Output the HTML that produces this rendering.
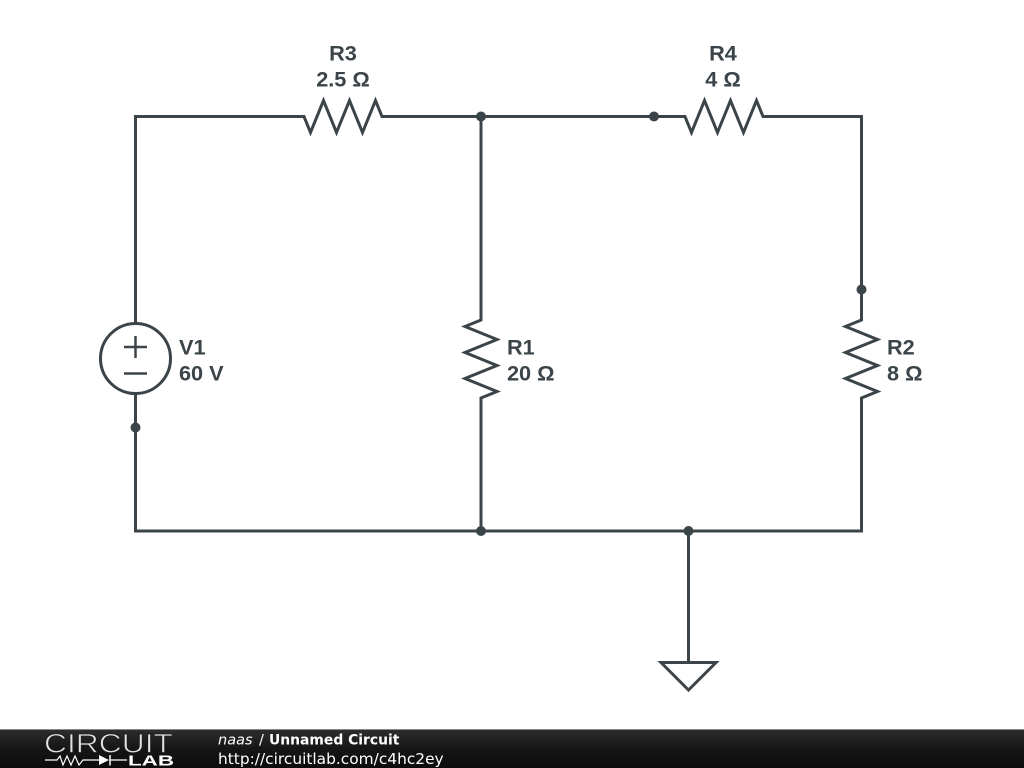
<!DOCTYPE html>
<html>
<head>
<meta charset="utf-8">
<style>
html,body{margin:0;padding:0;background:#fff;width:1024px;height:768px;overflow:hidden}
svg{display:block}
.l{font-family:"Liberation Sans",sans-serif;font-weight:bold;font-size:21.7px;fill:#3b4449;text-anchor:middle}
.ll{font-family:"Liberation Sans",sans-serif;font-weight:bold;font-size:21.7px;fill:#3b4449}
.f{font-family:"DejaVu Sans",sans-serif;fill:#fff}
</style>
</head>
<body>
<svg width="1024" height="768" viewBox="0 0 1024 768" xmlns="http://www.w3.org/2000/svg">
<defs>
<linearGradient id="g" x1="0" y1="0" x2="0" y2="1">
<stop offset="0" stop-color="#2e2e2e"/>
<stop offset="0.5" stop-color="#161616"/>
<stop offset="1" stop-color="#0c0c0c"/>
</linearGradient>
</defs>
<g fill="none" stroke="#3b4449" stroke-width="3" stroke-linejoin="miter" stroke-linecap="butt">
<path d="M135.500 323V116.500H304L310.500 132.500L323.500 100.500L336.500 132.500L349.500 100.500L362.500 132.500L375.500 100.500L382 116.500H685L691.500 132.500L704.500 100.500L717.500 132.500L730.500 100.500L743.500 132.500L756.500 100.500L763 116.500H861.500V320L845.500 326.500L877.500 339.500L845.500 352.500L877.500 365.500L845.500 378.500L877.500 391.500L861.500 398V531H135.500V393"/>
<path d="M481 116.500V320L465 326.500L497 339.500L465 352.500L497 365.500L465 378.500L497 391.500L481 398V531"/>
<circle cx="135.500" cy="358.500" r="35"/>
<path d="M124 347H147M135.500 336V358M124 373.500H147" stroke-width="2.500"/>
<path d="M688.500 531V662"/>
<path d="M661 662.500H716L688.500 690Z"/>
</g>
<g fill="#3b4449">
<circle cx="481" cy="116.500" r="5"/>
<circle cx="654" cy="116.500" r="5"/>
<circle cx="861.500" cy="289.500" r="5"/>
<circle cx="135.500" cy="427.500" r="5"/>
<circle cx="481" cy="531" r="5"/>
<circle cx="688.500" cy="531" r="5"/>
</g>
<text class="l" x="343" y="60.500">R3</text>
<text class="l" x="343" y="86.500">2.5 Ω</text>
<text class="l" x="723" y="60.500">R4</text>
<text class="l" x="723" y="86.500">4 Ω</text>
<text class="ll" x="179" y="354.500">V1</text>
<text class="ll" x="179" y="380.500">60 V</text>
<text class="ll" x="507" y="354.500">R1</text>
<text class="ll" x="507" y="380.500">20 Ω</text>
<text class="ll" x="887" y="354.500">R2</text>
<text class="ll" x="887" y="380.500">8 Ω</text>
<rect x="0" y="729" width="1024" height="39" fill="url(#g)"/>
<rect x="0" y="729" width="1024" height="1" fill="#8a8a8a"/>
<text x="44" y="752.500" font-family="'Liberation Sans',sans-serif" font-size="27" fill="#e4e4e4" stroke="#1d1d1d" stroke-width="0.800" textLength="129" lengthAdjust="spacingAndGlyphs">CIRCUIT</text>
<path d="M45 760H57L60 756L63 765L67 756L71 765L75 756L79 765L83 760H99M110 760H127" fill="none" stroke="#fff" stroke-width="1.200"/>
<path d="M99 755L109 760L99 765Z" fill="#fff"/>
<path d="M110 755V765.500" stroke="#fff" stroke-width="1.500"/>
<text x="128" y="765.500" font-family="'Liberation Sans',sans-serif" font-weight="bold" font-size="15" fill="#fff" textLength="46" lengthAdjust="spacingAndGlyphs">LAB</text>
<text class="f" font-size="14.500" x="218" y="744.500"><tspan font-style="italic">naas</tspan><tspan x="259">/</tspan><tspan x="269" font-weight="bold" font-size="13.900">Unnamed Circuit</tspan></text>
<text class="f" font-size="15.400" x="218" y="764">http://circuitlab.com/c4hc2ey</text>
</svg>
</body>
</html>
